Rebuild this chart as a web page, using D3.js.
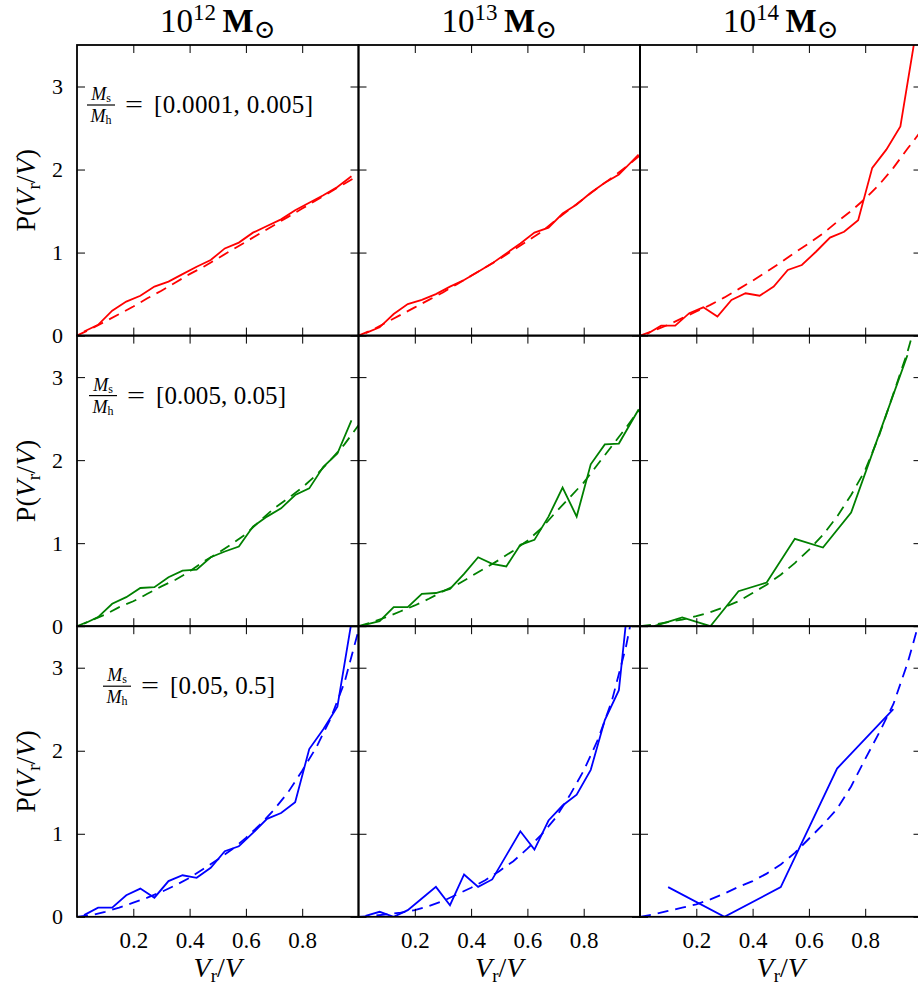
<!DOCTYPE html>
<html><head><meta charset="utf-8">
<script src="https://cdn.jsdelivr.net/npm/d3@7"></script>
<style>body{margin:0;background:#fff}</style>
</head><body>
<svg id="c" width="918" height="991"></svg>
<script>
// ---------------- data ----------------
const massExponents = ["12", "13", "14"];
const ratioLabels = ["[0.0001, 0.005]", "[0.005, 0.05]", "[0.05, 0.5]"];
const rowColors = ["#ff0000", "#008000", "#0000ff"];
const xTickValues = [0.2, 0.4, 0.6, 0.8];
const yTickValues = [0, 1, 2, 3];

const binX20 = [0.025,0.075,0.125,0.175,0.225,0.275,0.325,0.375,0.425,0.475,0.525,0.575,0.625,0.675,0.725,0.775,0.825,0.875,0.925,0.975];
const binX20mid = [0.025,0.075,0.125,0.175,0.225,0.275,0.325,0.375,0.425,0.475,0.525,0.575,0.625,0.675,0.725,0.775,0.825,0.875,0.925,0.995];
const binX10 = [0.05,0.15,0.25,0.35,0.45,0.55,0.65,0.75,0.85,0.95];
const binX5 = [0.1,0.3,0.5,0.7,0.9];
const modelX = [0,0.05,0.1,0.15,0.2,0.25,0.3,0.35,0.4,0.45,0.5,0.55,0.6,0.65,0.7,0.75,0.8,0.85,0.9,0.95,1.0];

// measured distributions (solid)
const histR1C1 = [0.05,0.13,0.30,0.41,0.48,0.59,0.65,0.74,0.83,0.91,1.05,1.12,1.24,1.32,1.40,1.51,1.60,1.69,1.79,1.92];
const histR1C2 = [0.03,0.10,0.26,0.38,0.43,0.50,0.59,0.67,0.77,0.87,0.99,1.11,1.24,1.30,1.47,1.58,1.72,1.84,1.94,2.18];
const histR1C3 = [0.02,0.12,0.12,0.27,0.34,0.23,0.43,0.51,0.48,0.59,0.79,0.85,1.01,1.18,1.25,1.39,2.02,2.24,2.52,3.55];
const histR2C1 = [0.03,0.11,0.27,0.35,0.46,0.47,0.59,0.67,0.68,0.83,0.90,0.96,1.20,1.32,1.42,1.58,1.66,1.92,2.08,2.48];
const histR2C2 = [0.02,0.06,0.23,0.23,0.39,0.40,0.45,0.63,0.83,0.75,0.72,0.98,1.04,1.32,1.67,1.32,1.95,2.19,2.20,2.61];
const histR2C3 = [0.0,0.105,0.0,0.421,0.526,1.053,0.947,1.368,2.316,3.263];
const histR3C1 = [0.02,0.11,0.11,0.26,0.34,0.23,0.43,0.50,0.47,0.59,0.79,0.85,1.01,1.18,1.25,1.38,2.02,2.26,2.53,3.55];
const histR3C2 = [0.01,0.06,0.0,0.08,0.22,0.36,0.14,0.51,0.36,0.45,0.74,1.03,0.81,1.16,1.34,1.47,1.77,2.37,2.73,5.0];
const histR3C3 = [0.357,0.0,0.357,1.786,2.5];

// model curves (dashed)
const modelR1C1 = [0,0.08,0.17,0.26,0.35,0.45,0.54,0.64,0.74,0.83,0.93,1.03,1.13,1.23,1.33,1.43,1.53,1.63,1.73,1.83,1.93];
const modelR1C2 = [0,0.07,0.16,0.25,0.34,0.43,0.52,0.62,0.72,0.82,0.92,1.03,1.14,1.25,1.39,1.52,1.65,1.78,1.90,2.03,2.17];
const modelR1C3 = [0,0.06,0.13,0.21,0.29,0.37,0.46,0.56,0.66,0.77,0.88,1.00,1.11,1.23,1.37,1.50,1.65,1.82,2.02,2.25,2.47];
const modelR2C1 = [0,0.07,0.14,0.23,0.30,0.39,0.48,0.56,0.66,0.78,0.88,0.99,1.11,1.27,1.42,1.54,1.67,1.82,2.00,2.19,2.42];
const modelR2C2 = [0,0.05,0.11,0.18,0.25,0.33,0.42,0.50,0.60,0.70,0.80,0.91,1.03,1.18,1.37,1.55,1.73,1.95,2.17,2.39,2.62];
const modelR2C3 = [0,0.02,0.05,0.08,0.12,0.17,0.23,0.30,0.40,0.50,0.62,0.76,0.92,1.10,1.32,1.58,1.88,2.30,2.80,3.30,3.90];
const modelR3C1 = [0,0.02,0.06,0.11,0.17,0.23,0.30,0.38,0.47,0.58,0.69,0.81,0.95,1.11,1.29,1.50,1.76,2.04,2.38,2.82,3.45];
const modelR3C2 = [0,0.01,0.03,0.05,0.08,0.13,0.19,0.27,0.35,0.44,0.55,0.67,0.82,0.99,1.19,1.46,1.76,2.13,2.60,3.25,4.10];
const modelR3C3 = [0,0.03,0.07,0.11,0.15,0.21,0.28,0.36,0.43,0.52,0.63,0.77,0.94,1.11,1.30,1.57,1.90,2.22,2.56,3.05,3.65];

const panels = [
  [{hx: binX20, hy: histR1C1, my: modelR1C1}, {hx: binX20mid, hy: histR1C2, my: modelR1C2}, {hx: binX20, hy: histR1C3, my: modelR1C3}],
  [{hx: binX20, hy: histR2C1, my: modelR2C1}, {hx: binX20mid, hy: histR2C2, my: modelR2C2}, {hx: binX10, hy: histR2C3, my: modelR2C3}],
  [{hx: binX20, hy: histR3C1, my: modelR3C1}, {hx: binX20mid, hy: histR3C2, my: modelR3C2}, {hx: binX5,  hy: histR3C3, my: modelR3C3}]
];

// ---------------- layout ----------------
const L = 77, T = 45, PW = 281.5, PH = 290.6;
const FONT = "'Liberation Serif','DejaVu Serif','Times New Roman',serif";
const svg = d3.select("#c");
const x = d3.scaleLinear().domain([0, 1]).range([0, PW]);
const y = d3.scaleLinear().domain([0, 3.5]).range([PH, 0]);
const line = d3.line().x(d => x(d[0])).y(d => y(d[1]));
const ratioX = [10, 12, 26];
const ratioWidths = [159, 130, 105];

panels.forEach((row, r) => {
  row.forEach((p, c) => {
    const g = svg.append("g").attr("transform", `translate(${L + c * PW},${T + r * PH})`);
    const cid = `clip${r}${c}`;
    g.append("clipPath").attr("id", cid).append("rect")
      .attr("x", 0).attr("y", 0).attr("width", PW).attr("height", PH);
    const plot = g.append("g").attr("clip-path", `url(#${cid})`);
    plot.append("path")
      .datum(p.hx.map((v, i) => [v, p.hy[i]]))
      .attr("d", line).attr("fill", "none")
      .attr("stroke", rowColors[r]).attr("stroke-width", 1.8)
      .attr("stroke-linejoin", "miter");
    plot.append("path")
      .datum(modelX.map((v, i) => [v, p.my[i]]))
      .attr("d", line).attr("fill", "none")
      .attr("stroke", rowColors[r]).attr("stroke-width", 1.8)
      .attr("stroke-dasharray", "11,7");

    // ticks (inward)
    const axB = g.append("g").attr("transform", `translate(0,${PH})`)
      .call(d3.axisBottom(x).tickValues(xTickValues).tickSize(-8).tickPadding(15)
        .tickFormat(r === 2 ? d3.format(".1f") : () => ""));
    const axT = g.append("g")
      .call(d3.axisTop(x).tickValues(xTickValues).tickSize(-8).tickFormat(() => ""));
    const axL = g.append("g")
      .call(d3.axisLeft(y).tickValues(yTickValues).tickSize(-8).tickPadding(14)
        .tickFormat(c === 0 ? d3.format("d") : () => ""));
    const axR = g.append("g").attr("transform", `translate(${PW},0)`)
      .call(d3.axisRight(y).tickValues(yTickValues).tickSize(-8).tickFormat(() => ""));
    [axB, axT, axL, axR].forEach(a => {
      a.attr("font-family", FONT);
      a.select(".domain").remove();
      a.selectAll(".tick line").attr("stroke", "#000").attr("stroke-width", 1);
      a.selectAll("text").attr("font-family", FONT).attr("fill", "#000");
    });
    axB.selectAll("text").attr("font-size", 23);
    axL.selectAll("text").attr("font-size", 22);

    // spines
    g.append("rect").attr("x", 0).attr("y", 0).attr("width", PW).attr("height", PH)
      .attr("fill", "none").attr("stroke", "#000").attr("stroke-width", 1.8);

    // titles
    if (r === 0) {
      const t = g.append("text").attr("x", PW / 2).attr("y", 32 - T)
        .attr("text-anchor", "middle").attr("font-family", FONT).attr("font-size", 33);
      t.append("tspan").text("10");
      t.append("tspan").attr("font-size", 23).attr("dy", -12).text(massExponents[c]);
      t.append("tspan").attr("dy", 12).text("\u2009");
      t.append("tspan").attr("font-weight", "bold").text("M");
      t.append("tspan").attr("font-size", 26).attr("dy", 6)
        .attr("font-family", "'DejaVu Serif','DejaVu Sans',serif").text("\u2299");
    }
    // x label
    if (r === 2) {
      const t = g.append("text").attr("x", PW / 2).attr("y", 977 - (T + 2 * PH))
        .attr("text-anchor", "middle").attr("font-family", FONT).attr("font-size", 28);
      t.append("tspan").attr("font-style", "italic").text("V");
      t.append("tspan").attr("font-size", 19).attr("dy", 5).text("r");
      t.append("tspan").attr("dy", -5).text("/");
      t.append("tspan").attr("font-style", "italic").text("V");
    }
    // y label and ratio annotation
    if (c === 0) {
      const t = g.append("text")
        .attr("transform", `translate(${35 - L},${PH / 2}) rotate(-90)`)
        .attr("text-anchor", "middle").attr("font-family", FONT).attr("font-size", 28);
      t.append("tspan").text("P(");
      t.append("tspan").attr("font-style", "italic").text("V");
      t.append("tspan").attr("font-size", 19).attr("dy", 5).text("r");
      t.append("tspan").attr("dy", -5).text("/");
      t.append("tspan").attr("font-style", "italic").text("V");
      t.append("tspan").text(")");

      const x0 = ratioX[r], by = 60;
      const a = g.append("g").attr("font-family", FONT).attr("fill", "#000");
      const num = a.append("text").attr("x", x0 + 14).attr("y", by - 5)
        .attr("text-anchor", "middle").attr("font-size", 18);
      num.append("tspan").attr("font-style", "italic").text("M");
      num.append("tspan").attr("font-size", 12).attr("dy", 2).text("s");
      const den = a.append("text").attr("x", x0 + 14).attr("y", by + 17)
        .attr("text-anchor", "middle").attr("font-size", 18);
      den.append("tspan").attr("font-style", "italic").text("M");
      den.append("tspan").attr("font-size", 12).attr("dy", 2).text("h");
      a.append("line").attr("x1", x0).attr("x2", x0 + 28).attr("y1", by).attr("y2", by)
        .attr("stroke", "#000").attr("stroke-width", 1.2);
      a.append("text").attr("x", x0 + 38).attr("y", by + 8).attr("font-size", 25)
        .attr("textLength", 18).attr("lengthAdjust", "spacingAndGlyphs").text("=");
      a.append("text").attr("x", x0 + 67).attr("y", by + 8).attr("font-size", 25)
        .attr("textLength", ratioWidths[r]).attr("lengthAdjust", "spacing").text(ratioLabels[r]);
    }
  });
});
</script>
</body></html>
